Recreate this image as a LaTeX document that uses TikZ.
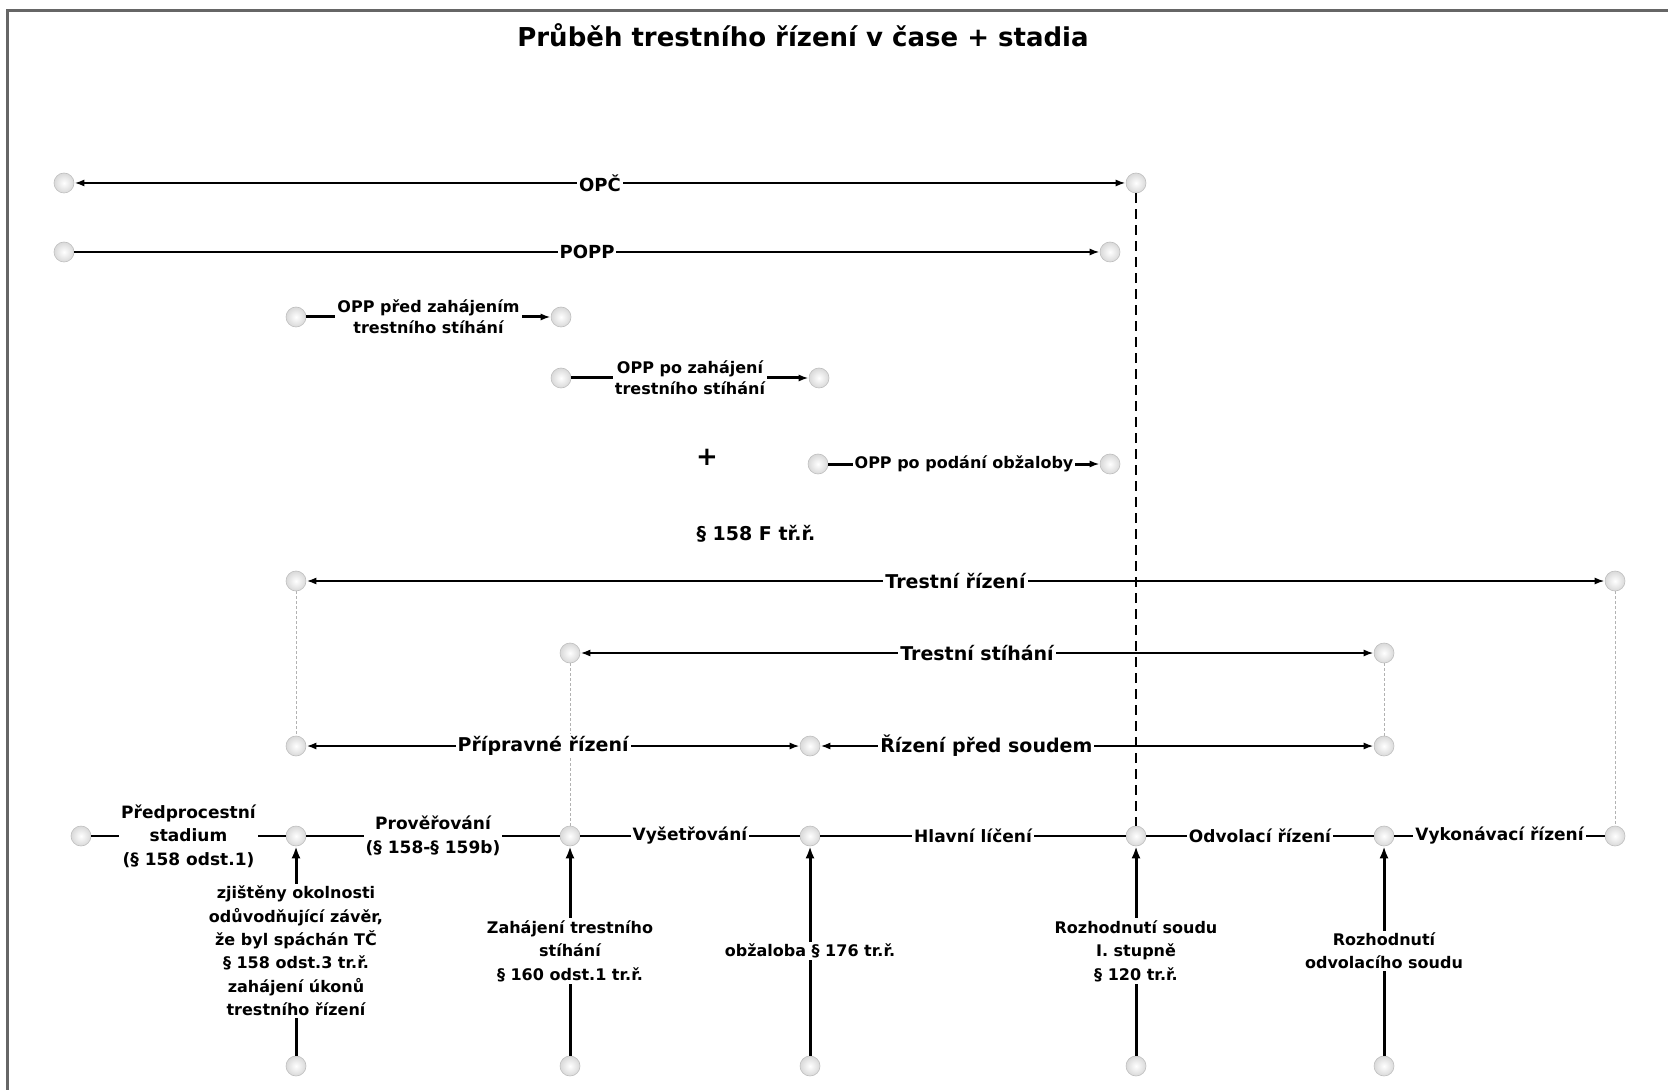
\documentclass[tikz,border=0pt]{standalone}
\usepackage{fontspec}
\setmainfont{DejaVu Sans}
\usetikzlibrary{arrows.meta}

\tikzset{
  bod/.style={circle, draw=gray!50, line width=0.3pt, shading=radial, inner color=white, outer color=gray!30, minimum size=10pt, inner sep=0pt},
  popis/.style={fill=white, inner sep=1pt, font=\bfseries\fontsize{9.5}{11}\selectfont, align=center},
  maly/.style={fill=white, inner sep=1pt, font=\bfseries\fontsize{8}{11.7}\selectfont, align=center},
  osa/.style={fill=white, inner sep=1pt, font=\bfseries\fontsize{8.5}{11.7}\selectfont, align=center},
  hrot/.tip={Latex[length=5pt,width=3.5pt]},
  sipka/.style={line width=1pt, -hrot},
  obousipka/.style={line width=1pt, hrot-hrot},
  svisla/.style={line width=1.5pt, -{Latex[length=6pt,width=4.5pt]}},
  tecky/.style={gray!60, line width=0.4pt, dash pattern=on 1.5pt off 1pt},
}

\begin{document}
\begin{tikzpicture}[x=0.5pt,y=0.5pt,yscale=-1,xscale=1]
\useasboundingbox (0,0) rectangle (1668,1090);

%frame
\draw[gray!80!black, line width=1.5pt] (7,1090) -- (7,11) -- (1668,11);

% Text Node
\node (nadpis) at (803,35) {\bfseries\fontsize{13}{15}\selectfont Průběh trestního řízení v čase + stadia};

%points
\node[bod] (opcL) at (64,183) {};
\node[bod] (opcR) at (1136,183) {};
\node[bod] (poppL) at (64,252) {};
\node[bod] (poppR) at (1110,252) {};
\node[bod] (oppA1) at (296,317) {};
\node[bod] (oppA2) at (561,317) {};
\node[bod] (oppB1) at (561,378) {};
\node[bod] (oppB2) at (819,378) {};
\node[bod] (oppC1) at (818,464) {};
\node[bod] (oppC2) at (1110,464) {};
\node[bod] (trL) at (296,581) {};
\node[bod] (trR) at (1615,581) {};
\node[bod] (tsL) at (570,653) {};
\node[bod] (tsR) at (1384,653) {};
\node[bod] (prL) at (296,746) {};
\node[bod] (rsM) at (810,746) {};
\node[bod] (rsR) at (1384,746) {};

%timeline
\foreach \i/\x in {1/81,2/296,3/570,4/810,5/1136,6/1384,7/1615}
  \node[bod] (t\i) at (\x,836) {};
\foreach \i/\x in {2/296,3/570,4/810,5/1136,6/1384}
  \node[bod] (z\i) at (\x,1066) {};

% Text Node
\node (plus) at (707,457) {\bfseries\fontsize{13}{15}\selectfont +};
\node (para) at (756,534) {\bfseries\fontsize{9.5}{11}\selectfont § 158 F tř.ř.};

%dashed / dotted
\draw[line width=1.3pt, dash pattern=on 5pt off 3pt] (opcR) -- (t5);
\draw[tecky] (trL) -- (prL);
\draw[tecky] (tsL) -- (t3);
\draw[tecky] (tsR) -- (rsR);
\draw[tecky] (trR) -- (t7);

%ranges
\draw[obousipka] (opcL) -- node[popis, font=\bfseries\fontsize{9}{11}\selectfont]{OPČ} (opcR);
\draw[sipka] (poppL) -- node[popis, font=\bfseries\fontsize{9}{11}\selectfont]{POPP} (poppR);
\draw[sipka, line width=1.5pt] (oppA1) -- node[maly, font=\bfseries\fontsize{8}{10.5}\selectfont]{OPP před zahájením\\trestního stíhání} (oppA2);
\draw[sipka, line width=1.5pt] (oppB1) -- node[maly, font=\bfseries\fontsize{8}{10.5}\selectfont]{OPP po zahájení\\trestního stíhání} (oppB2);
\draw[sipka, line width=1.5pt] (oppC1) -- node[maly]{OPP po podání obžaloby} (oppC2);
\draw[obousipka] (trL) -- node[popis]{Trestní řízení} (trR);
\draw[obousipka] (tsL) -- node[popis]{Trestní stíhání} (tsR);
\draw[obousipka] (prL) -- node[popis, pos=0.48]{Přípravné řízení} (rsM);
\draw[obousipka] (rsM) -- node[popis, pos=0.3]{Řízení před soudem} (rsR);

%stages
\draw[line width=0.8pt] (t1) -- node[osa]{Předprocestní\\stadium\\(§ 158 odst.1)} (t2);
\draw[line width=0.8pt] (t2) -- node[osa]{Prověřování\\(§ 158-§ 159b)} (t3);
\draw[line width=0.8pt] (t3) -- node[osa]{Vyšetřování} (t4);
\draw[line width=1.3pt] (t4) -- node[osa]{Hlavní líčení} (t5);
\draw[line width=1.3pt] (t5) -- node[osa]{Odvolací řízení} (t6);
\draw[line width=1.3pt] (t6) -- node[osa]{Vykonávací řízení} (t7);

%events
\draw[svisla] (z2) -- node[maly]{zjištěny okolnosti\\odůvodňující závěr,\\že byl spáchán TČ\\§ 158 odst.3 tr.ř.\\zahájení úkonů\\trestního řízení} (t2);
\draw[svisla] (z3) -- node[maly]{Zahájení trestního\\stíhání\\§ 160 odst.1 tr.ř.} (t3);
\draw[svisla] (z4) -- node[maly]{obžaloba § 176 tr.ř.} (t4);
\draw[svisla] (z5) -- node[maly]{Rozhodnutí soudu\\I. stupně\\§ 120 tr.ř.} (t5);
\draw[svisla] (z6) -- node[maly]{Rozhodnutí\\odvolacího soudu} (t6);

\end{tikzpicture}
\end{document}
